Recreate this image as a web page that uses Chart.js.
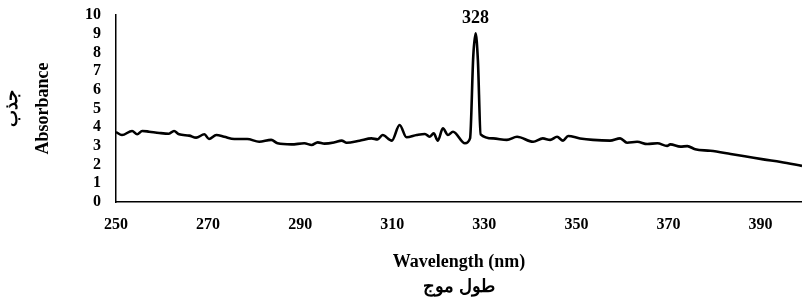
<!DOCTYPE html>
<html>
<head>
<meta charset="utf-8">
<script src="https://cdn.jsdelivr.net/npm/chart.js@4.4.1/dist/chart.umd.min.js"></script>
<style>
  html, body { margin: 0; padding: 0; background: #fff; }
  #wrap { width: 802px; height: 304px; }
</style>
</head>
<body>
<div id="wrap"><canvas id="spectrum"></canvas></div>
<script>
// spectrum (nm, absorbance)
const wavelength = [250, 251.3, 253.5, 254.6, 255.7, 257.2, 259.4, 261.5, 262.6, 263.7,
  265.9, 267.4, 269.2, 270.2, 271.8, 273.5, 275.7, 278.5, 281.1, 283.7,
  285.1, 288.1, 290.9, 292.5, 293.8, 295.3, 297.5, 299.0, 300.1, 302.9,
  305.5, 306.8, 307.9, 309.9, 311.6, 313.1, 315.3, 317.1, 318.1, 319.0,
  319.9, 321.0, 322.1, 323.2, 325.8, 326.9, 327.6, 328.1, 328.6, 329.2,
  331.9, 334.9, 337.1, 340.6, 342.7, 344.3, 345.8, 347.1, 348.2, 350.8,
  353.6, 357.3, 359.5, 361.0, 363.2, 365.4, 367.6, 369.7, 370.4, 372.6,
  374.1, 375.8, 379.1, 383.5, 387.2, 390.6, 394.4, 399];
const absorbance = [3.74, 3.58, 3.80, 3.62, 3.80, 3.76, 3.69, 3.65, 3.80, 3.62,
  3.55, 3.44, 3.62, 3.37, 3.58, 3.49, 3.37, 3.37, 3.22, 3.32,
  3.14, 3.08, 3.14, 3.05, 3.19, 3.12, 3.19, 3.28, 3.17, 3.28,
  3.40, 3.35, 3.58, 3.28, 4.12, 3.46, 3.58, 3.64, 3.49, 3.67,
  3.28, 3.94, 3.58, 3.76, 3.14, 3.40, 7.8, 9.02, 7.6, 3.62,
  3.40, 3.32, 3.49, 3.22, 3.40, 3.32, 3.49, 3.28, 3.53, 3.40,
  3.32, 3.28, 3.40, 3.17, 3.22, 3.10, 3.14, 3.00, 3.08, 2.96,
  2.99, 2.82, 2.74, 2.57, 2.42, 2.28, 2.14, 1.93];
const xTicks = [250, 270, 290, 310, 330, 350, 370, 390];
const yTicks = [0, 1, 2, 3, 4, 5, 6, 7, 8, 9, 10];
const xTitle = ['Wavelength (nm)', 'طول موج'];
const yTitle = ['جذب', 'Absorbance'];

const serif = "'Liberation Serif', 'Times New Roman', serif";

// etiqueta do pico (328) em cima do ponto maximo
const peakLabel = {
  id: 'peakLabel',
  afterDatasetsDraw(chart) {
    let idx = absorbance.indexOf(Math.max(...absorbance));
    let pt = chart.getDatasetMeta(0).data[idx];
    let ctx = chart.ctx;
    ctx.save();
    ctx.font = 'bold 18px ' + serif;
    ctx.fillStyle = '#000';
    ctx.textAlign = 'center';
    ctx.textBaseline = 'bottom';
    ctx.fillText(String(Math.round(wavelength[idx])), pt.x, pt.y - 6);
    ctx.restore();
  }
};

const points = wavelength.map((w, i) => ({ x: w, y: absorbance[i] }));

new Chart(document.getElementById('spectrum'), {
  type: 'line',
  data: {
    datasets: [{
      data: points,
      borderColor: '#000',
      borderWidth: 2.6,
      pointRadius: 0,
      cubicInterpolationMode: 'monotone',
      fill: false
    }]
  },
  options: {
    responsive: true,
    maintainAspectRatio: false,
    animation: false,
    events: [],
    layout: { padding: { top: 15, right: 0, bottom: 0, left: 0 } },
    plugins: { legend: { display: false }, tooltip: { enabled: false } },
    scales: {
      x: {
        type: 'linear',
        min: 250,
        max: 399,
        afterBuildTicks: s => { s.ticks = xTicks.map(v => ({ value: v })); },
        afterFit: s => { s.height = 102; s.paddingLeft = 0; s.paddingRight = 0; },
        grid: { display: false, drawTicks: false },
        border: { color: '#000', width: 1.5 },
        ticks: { color: '#000', padding: 13, maxRotation: 0, autoSkip: false, font: { family: serif, size: 16, weight: 'bold' } },
        title: {
          display: true,
          text: xTitle,
          color: '#000',
          padding: { top: 0, bottom: 4 },
          font: { family: serif, size: 18, weight: 'bold', lineHeight: 25 / 18 }
        }
      },
      y: {
        min: 0,
        max: 10,
        afterBuildTicks: s => { s.ticks = yTicks.map(v => ({ value: v })); },
        afterFit: s => { s.width = 116; s.paddingTop = 0; s.paddingBottom = 0; },
        grid: { display: false, drawTicks: false },
        border: { color: '#000', width: 1.5 },
        ticks: { color: '#000', padding: 15, autoSkip: false, font: { family: serif, size: 16, weight: 'bold' } },
        title: {
          display: true,
          text: yTitle,
          color: '#000',
          padding: { top: -3, bottom: 0 },
          font: { family: serif, size: 18, weight: 'bold', lineHeight: 31 / 18 }
        }
      }
    }
  },
  plugins: [peakLabel]
});
</script>
</body>
</html>
